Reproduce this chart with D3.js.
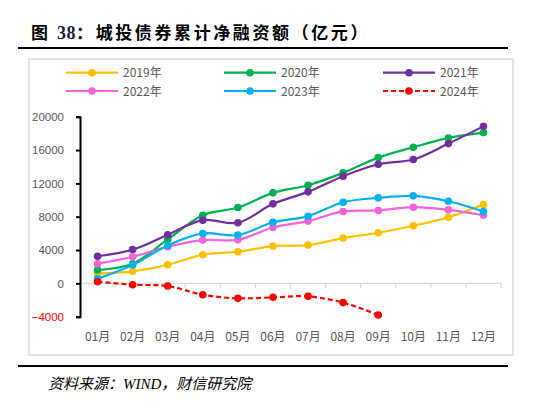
<!DOCTYPE html>
<html><head><meta charset="utf-8">
<script src="https://cdn.jsdelivr.net/npm/d3@7"></script>
<style>
html,body{margin:0;padding:0;background:#fff;}
svg{display:block;}
</style></head>
<body>
<svg id="c" width="540" height="403"></svg>
<script>
const months = ["01月","02月","03月","04月","05月","06月","07月","08月","09月","10月","11月","12月"];
const yTicks = [-4000, 0, 4000, 8000, 12000, 16000, 20000];
const seriesNames = ["2019年","2020年","2021年","2022年","2023年","2024年"];
const seriesColors = ["#FFC000","#00B050","#7030A0","#F564D6","#00B0F0","#FF0000"];
const v2019 = [1200,1440,2240,3430,3790,4470,4590,5430,6070,6910,7940,9460];
const v2020 = [1600,2350,5270,8180,9100,10860,11780,13260,15090,16330,17450,18090];
const v2021 = [3250,4050,5830,7580,7270,9540,10980,12860,14300,14860,16770,18840];
const v2022 = [2360,3190,4390,5190,5230,6710,7470,8630,8750,9140,8830,8180];
const v2023 = [560,2200,4550,5990,5790,7340,8060,9740,10260,10500,9860,8630];
const v2024 = [200,-160,-320,-1360,-1800,-1680,-1560,-2310,-3790];
const allValues = [v2019,v2020,v2021,v2022,v2023,v2024];

const svg = d3.select("#c");
const FONT = "'Liberation Sans', Arial, sans-serif";
const CJK = "'Noto Sans CJK SC', sans-serif";

// title
const title = svg.append("text").attr("x", 31).attr("y", 39)
  .attr("font-family", CJK).attr("font-weight", "bold").attr("font-size", 17)
  .attr("letter-spacing", 2.6).attr("fill", "#000");
title.append("tspan").text("图 ");
title.append("tspan").attr("font-family", "'Liberation Serif', serif").attr("font-size", 18)
  .attr("letter-spacing", 0.5).attr("fill", "#1a1a40").text("38");
title.append("tspan").text("：城投债券累计净融资额（亿元）");
svg.append("line").attr("x1", 18).attr("x2", 508).attr("y1", 48).attr("y2", 48)
  .attr("stroke", "#000").attr("stroke-width", 2);

// chart frame
svg.append("rect").attr("x", 29).attr("y", 59).attr("width", 484).attr("height", 296)
  .attr("fill", "none").attr("stroke", "#d9d9d9").attr("stroke-width", 1.5);

// scales
const x = d3.scaleBand().domain(months).range([80, 501]);
const y = d3.scaleLinear().domain([-4000, 20000]).range([316.7, 116.7]);

// x axis at zero
const xg = svg.append("g").attr("transform", `translate(0,${y(0)})`);
xg.append("line").attr("x1", 80).attr("x2", 501).attr("stroke", "#d9d9d9").attr("stroke-width", 1.3);
const bounds = months.map(m => x(m)).concat([x.range()[1]]);
xg.selectAll("line.tk").data(bounds).join("line").attr("class","tk")
  .attr("x1", d => d).attr("x2", d => d).attr("y1", 0).attr("y2", 5)
  .attr("stroke", "#d9d9d9").attr("stroke-width", 1.3);
svg.append("g").selectAll("text").data(months).join("text")
  .attr("x", d => x(d) + x.bandwidth()/2).attr("y", 341)
  .attr("text-anchor", "middle").attr("font-family", CJK).attr("font-size", 12)
  .attr("fill", "#595959").text(d => d);

// y axis
const yAxis = d3.axisLeft(y).tickValues(yTicks).tickSize(4).tickPadding(12).tickFormat(d3.format("d"));
const yg = svg.append("g").attr("transform", "translate(80,0)").call(yAxis);
yg.select(".domain").attr("stroke", "#000").attr("stroke-width", 2);
yg.selectAll(".tick line").attr("stroke", "#000").attr("stroke-width", 2);
yg.selectAll(".tick text").attr("font-family", FONT).attr("font-size", 11.5)
  .attr("fill", d => d < 0 ? "#FF0000" : "#595959");

// series
const line = d3.line().x((d,i) => x(months[i]) + x.bandwidth()/2).y(d => y(d)).curve(d3.curveCatmullRom.alpha(0.5));
allValues.forEach((vals, k) => {
  const g = svg.append("g");
  g.append("path").attr("d", line(vals)).attr("fill", "none")
    .attr("stroke", seriesColors[k]).attr("stroke-width", 2.2)
    .attr("stroke-dasharray", k === 5 ? "5,3" : null);
  g.selectAll("circle").data(vals).join("circle")
    .attr("cx", (d,i) => x(months[i]) + x.bandwidth()/2).attr("cy", d => y(d))
    .attr("r", 3.8).attr("fill", seriesColors[k]);
});

// legend
const legX = [66, 224, 383];
const legY = [72.7, 91];
seriesNames.forEach((name, k) => {
  const lx = legX[k % 3], ly = legY[Math.floor(k / 3)];
  const g = svg.append("g");
  g.append("line").attr("x1", lx).attr("x2", lx + 52).attr("y1", ly).attr("y2", ly)
    .attr("stroke", seriesColors[k]).attr("stroke-width", 2.2)
    .attr("stroke-dasharray", k === 5 ? "5,3" : null);
  g.append("circle").attr("cx", lx + 26).attr("cy", ly).attr("r", 3.8).attr("fill", seriesColors[k]);
  g.append("text").attr("x", lx + 57).attr("y", ly + 4.5)
    .attr("font-family", CJK).attr("font-size", 12).attr("fill", "#595959").text(name);
});

// bottom rule and source
svg.append("line").attr("x1", 18).attr("x2", 508).attr("y1", 366).attr("y2", 366)
  .attr("stroke", "#000").attr("stroke-width", 2);
svg.append("text").attr("x", 48).attr("y", 389)
  .attr("font-family", "'Liberation Serif', 'Noto Sans CJK SC', serif").attr("font-style", "italic")
  .attr("font-size", 15).attr("fill", "#000")
  .text("资料来源：WIND，财信研究院");
</script>
</body></html>
